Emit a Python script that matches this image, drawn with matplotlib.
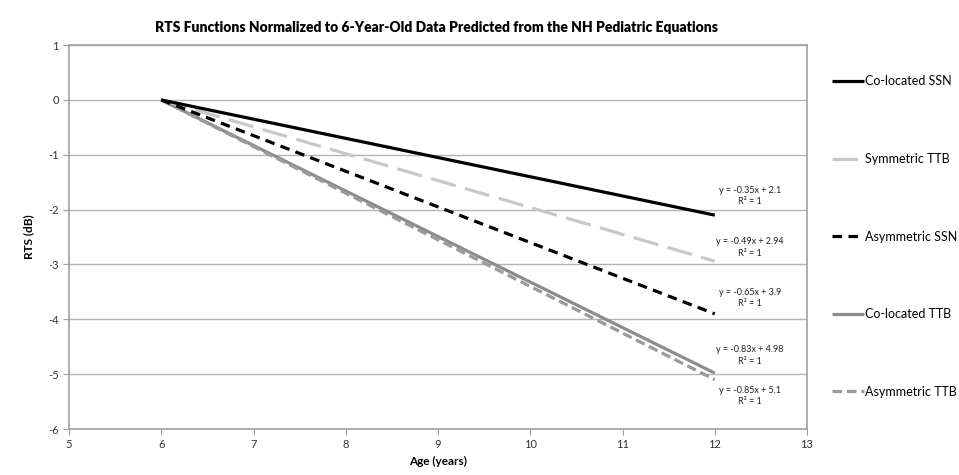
import matplotlib
matplotlib.use("Agg")
import matplotlib.pyplot as plt

plt.rcParams['font.family'] = ['Lato', 'DejaVu Sans']
plt.rcParams['axes.unicode_minus'] = False

ages = [6, 12]
series_names = ["Co-located SSN", "Symmetric TTB", "Asymmetric SSN", "Co-located TTB", "Asymmetric TTB"]
colocated_ssn = [0.0, -2.1]
symmetric_ttb = [0.0, -2.94]
asymmetric_ssn = [0.0, -3.9]
colocated_ttb = [0.0, -4.98]
asymmetric_ttb = [0.0, -5.1]
equations = ["y = -0.35x + 2.1", "y = -0.49x + 2.94", "y = -0.65x + 3.9",
             "y = -0.83x + 4.98", "y = -0.85x + 5.1"]
eq_y = [-1.75, -2.69, -3.61, -4.66, -5.39]
eq_x = 12.38

fig = plt.figure(figsize=(9.59, 4.75), dpi=100)
ax = fig.add_axes([0.072, 0.0968, 0.7695, 0.8082])

styles = [
    dict(color='black', lw=2.3, ls='-'),
    dict(color='#c8c8c8', lw=2.3, ls=(0, (8, 3))),
    dict(color='black', lw=2.3, ls=(0, (3, 2))),
    dict(color='#8c8c8c', lw=2.3, ls='-'),
    dict(color='#9a9a9a', lw=2.3, ls=(0, (3, 1.5))),
]
data = [colocated_ssn, symmetric_ttb, asymmetric_ssn, colocated_ttb, asymmetric_ttb]
order = [3, 4, 1, 2, 0]
handles = [None]*5
for i in order:
    h, = ax.plot(ages, data[i], label=series_names[i], solid_capstyle='butt',
                 dash_capstyle='butt', **styles[i])
    handles[i] = h

for txt, yy in zip(equations, eq_y):
    ax.text(eq_x, yy, txt + "\nR² = 1", ha='center', va='center', fontsize=6.5,
            linespacing=1.3, color='#222222')

ax.set_xlim(5, 13)
ax.set_ylim(-6, 1)
ax.set_xticks(range(5, 14))
ax.set_yticks(range(-6, 2))
ax.yaxis.grid(True, color='#b4b4b4', lw=1)
ax.set_axisbelow(True)
for s in ax.spines.values():
    s.set_color('#a0a0a0')
    s.set_linewidth(1.2)
ax.tick_params(axis='both', colors='#a0a0a0', labelcolor='#333333', labelsize=8,
               length=4, direction='out')
ax.set_xlabel('Age (years)', fontsize=8.5, fontweight='bold', labelpad=4)
ax.set_ylabel('RTS (dB)', fontsize=8.5, fontweight='bold', labelpad=10)
fig.suptitle('RTS Functions Normalized to 6-Year-Old Data Predicted from the NH Pediatric Equations',
             x=0.455, y=0.955, fontsize=10, fontweight='heavy')

leg = fig.legend(handles, series_names, loc='upper left', bbox_to_anchor=(0.862, 0.852),
                 frameon=False, fontsize=9, handlelength=2.6, handletextpad=0.1,
                 labelspacing=5.25, borderaxespad=0)

fig.savefig('out.png', dpi=100)
